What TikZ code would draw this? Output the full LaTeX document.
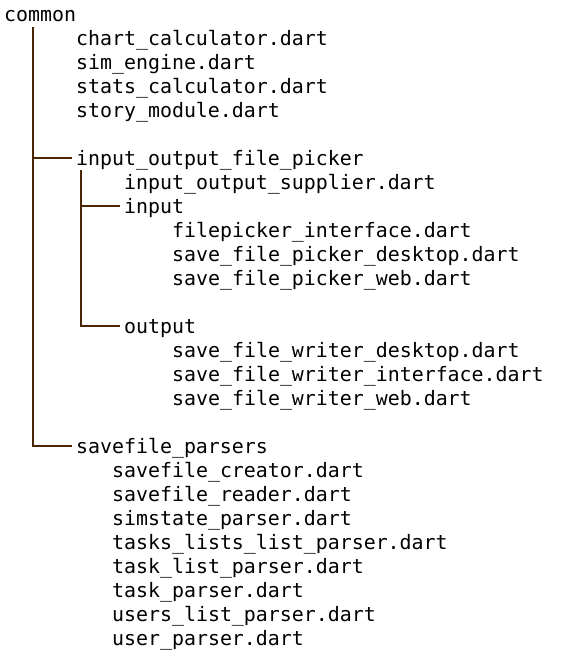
\documentclass[tikz,border=0pt]{standalone}
\usepackage{fontspec}
\setmonofont{DejaVu Sans Mono}
\definecolor{treebrown}{HTML}{4A2500}
\begin{document}
\begin{tikzpicture}[x=1pt,y=-1pt,
  f/.style={anchor=base west, inner sep=0pt, font=\ttfamily\fontsize{19.9}{24}\selectfont},
  tree/.style={draw=treebrown, line width=2pt}]
\useasboundingbox (0,0) rectangle (563,664);
\node[f] (common) at (4,21) {common};
\node[f] (chart) at (76,45) {chart\_calculator.dart};
\node[f] (sim) at (76,69) {sim\_engine.dart};
\node[f] (stats) at (76,93) {stats\_calculator.dart};
\node[f] (story) at (76,117) {story\_module.dart};
\node[f] (iofp) at (76,165) {input\_output\_file\_picker};
\node[f] (supp) at (124,189) {input\_output\_supplier.dart};
\node[f] (input) at (124,213) {input};
\node[f] (fpi) at (172,237) {filepicker\_interface.dart};
\node[f] (sfpd) at (172,261) {save\_file\_picker\_desktop.dart};
\node[f] (sfpw) at (172,285) {save\_file\_picker\_web.dart};
\node[f] (output) at (124,333) {output};
\node[f] (sfwd) at (172,357) {save\_file\_writer\_desktop.dart};
\node[f] (sfwi) at (172,381) {save\_file\_writer\_interface.dart};
\node[f] (sfww) at (172,405) {save\_file\_writer\_web.dart};
\node[f] (sp) at (76,453) {savefile\_parsers};
\node[f] (sc) at (112,477) {savefile\_creator.dart};
\node[f] (sr) at (112,501) {savefile\_reader.dart};
\node[f] (ssp) at (112,525) {simstate\_parser.dart};
\node[f] (tllp) at (112,549) {tasks\_lists\_list\_parser.dart};
\node[f] (tlp) at (112,573) {task\_list\_parser.dart};
\node[f] (tp) at (112,597) {task\_parser.dart};
\node[f] (ulp) at (112,621) {users\_list\_parser.dart};
\node[f] (up) at (112,645) {user\_parser.dart};
\coordinate (root) at (33,27);
\coordinate (sub) at (81,170);
\draw[tree] (root) |- ([xshift=-4pt,yshift=7.5pt]sp.base west);
\draw[tree] (root |- iofp.base west) ++(0,-7.5) -- ([xshift=-4pt,yshift=7.5pt]iofp.base west);
\draw[tree] (sub) |- ([xshift=-4pt,yshift=7.5pt]output.base west);
\draw[tree] (sub |- input.base west) ++(0,-7.5) -- ([xshift=-4pt,yshift=7.5pt]input.base west);
\end{tikzpicture}
\end{document}
